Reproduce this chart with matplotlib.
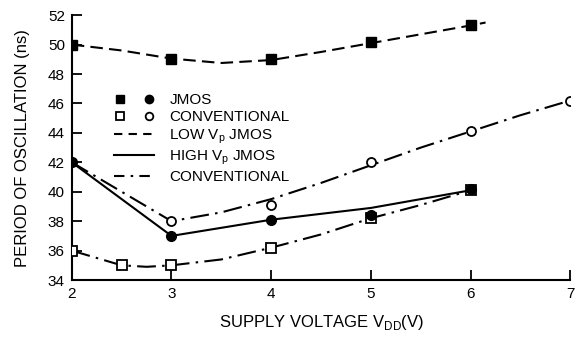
import matplotlib
matplotlib.use("Agg")
import matplotlib.pyplot as plt
from matplotlib.lines import Line2D
from matplotlib.legend_handler import HandlerTuple

plt.rcParams['font.family'] = ['Liberation Sans', 'DejaVu Sans']

# measured points (V_DD in volts, period in ns)
jmos_low_x = [2, 3, 4, 5, 6]
jmos_low_y = [50.0, 49.05, 49.05, 50.15, 51.35]
jmos_high_x = [2, 3, 4, 5, 6]
jmos_high_y = [42.0, 37.0, 38.1, 38.45, 40.2]
conv_sq_x = [2, 2.5, 3, 4, 5, 6]
conv_sq_y = [36.0, 35.0, 35.0, 36.2, 38.2, 40.1]
conv_ci_x = [3, 4, 5, 6, 7]
conv_ci_y = [38.0, 39.1, 42.0, 44.1, 46.2]

# hand-drawn trend curves through the data
low_curve_x = [2, 2.5, 3, 3.5, 4, 4.5, 5, 5.5, 6, 6.15]
low_curve_y = [50.0, 49.6, 49.05, 48.75, 48.95, 49.5, 50.1, 50.7, 51.3, 51.5]
high_curve_x = [2, 3, 4, 5, 6]
high_curve_y = [42.0, 37.0, 38.1, 38.9, 40.1]
conv_sq_curve_x = [2, 2.5, 2.75, 3, 3.5, 4, 4.5, 5, 5.5, 6]
conv_sq_curve_y = [36.0, 35.0, 34.9, 35.0, 35.4, 36.2, 37.1, 38.2, 39.1, 40.1]
conv_ci_curve_x = [2, 3, 3.5, 4, 4.5, 5, 5.5, 6, 6.5, 7]
conv_ci_curve_y = [42.0, 38.0, 38.6, 39.5, 40.6, 41.8, 43.0, 44.1, 45.2, 46.2]

dashed = (0, (6, 3))
dashdot = (0, (9, 3, 1.2, 3))

fig = plt.figure(figsize=(5.79, 3.37), dpi=100)
ax = fig.add_axes([0.124, 0.169, 0.861, 0.786])

ax.plot(low_curve_x, low_curve_y, color='black', lw=1.5, ls=dashed)
ax.plot(high_curve_x, high_curve_y, color='black', lw=1.5)
ax.plot(conv_sq_curve_x, conv_sq_curve_y, color='black', lw=1.5, ls=dashdot)
ax.plot(conv_ci_curve_x, conv_ci_curve_y, color='black', lw=1.5, ls=dashdot)

ax.plot(conv_sq_x, conv_sq_y, 's', ms=6.5, mfc='white', mec='black', mew=1.3, zorder=3)
ax.plot(conv_ci_x, conv_ci_y, 'o', ms=6.5, mfc='white', mec='black', mew=1.3, zorder=3)
ax.plot(jmos_low_x, jmos_low_y, 's', ms=7, color='black', zorder=4)
ax.plot(jmos_high_x, jmos_high_y, 'o', ms=7, color='black', zorder=4)

ax.set_xlim(2, 7)
ax.set_ylim(34, 52)
ax.set_xticks(range(2, 8))
ax.set_yticks(range(34, 53, 2))
ax.spines['top'].set_visible(False)
ax.spines['right'].set_visible(False)
for s in ('left', 'bottom'):
    ax.spines[s].set_linewidth(1.5)
ax.tick_params(direction='in', length=7, width=1.3, labelsize=11, pad=5)
ax.set_xlabel('SUPPLY VOLTAGE V$_{\\mathregular{DD}}$(V)', fontsize=12, labelpad=9)
ax.set_ylabel('PERIOD OF OSCILLATION (ns)', fontsize=12, labelpad=13)

sq_f = Line2D([], [], ls='none', marker='s', ms=6, color='black')
ci_f = Line2D([], [], ls='none', marker='o', ms=6, color='black')
sq_o = Line2D([], [], ls='none', marker='s', ms=5.5, mfc='white', mec='black', mew=1.3)
ci_o = Line2D([], [], ls='none', marker='o', ms=5.5, mfc='white', mec='black', mew=1.3)
ln_low = Line2D([], [], color='black', lw=1.5, ls=(0, (4, 3)))
ln_high = Line2D([], [], color='black', lw=1.5)
ln_conv = Line2D([], [], color='black', lw=1.5, ls=(0, (5, 3, 1.2, 3)))

leg = ax.legend([(sq_f, ci_f), (sq_o, ci_o), ln_low, ln_high, ln_conv],
                ['JMOS', 'CONVENTIONAL', 'LOW V$_{\\mathregular{p}}$ JMOS',
                 'HIGH V$_{\\mathregular{p}}$ JMOS', 'CONVENTIONAL'],
                handler_map={tuple: HandlerTuple(ndivide=None, pad=1.2)},
                loc='upper left', bbox_to_anchor=(0.07, 0.735), frameon=False,
                fontsize=11, handlelength=2.6, handletextpad=1.0,
                labelspacing=0.2, borderpad=0)

fig.savefig('out.png', dpi=100)
